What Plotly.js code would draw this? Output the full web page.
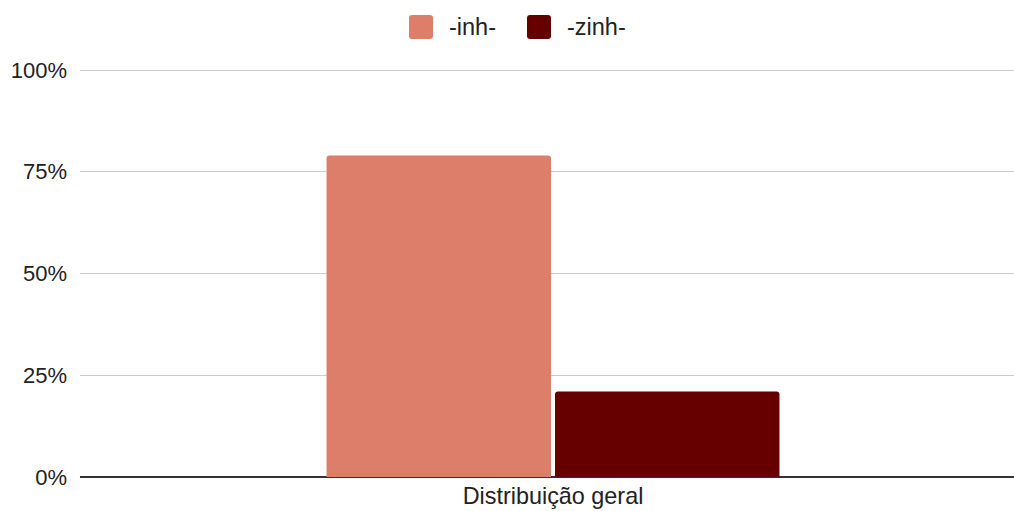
<!DOCTYPE html>
<html>
<head>
<meta charset="utf-8">
<script src="https://cdn.plot.ly/plotly-3.0.1.min.js"></script>
<style>html,body{margin:0;padding:0;background:#fff;}#chart{width:1014px;height:511px;}</style>
</head>
<body>
<div id="chart"></div>
<script>
// Share of each diminutive suffix in the overall distribution
const categories = ['Distribuição geral'];
const seriesNames = ['-inh-', '-zinh-'];
const inhValues = [79];
const zinhValues = [21];
const seriesColors = ['#dd7e6b', '#660000'];
const yTickValues = [0, 25, 50, 75, 100];
const yTickLabels = ['0%', '25%', '50%', '75%', '100%'];

const W = 1014, H = 511;
const M = {l: 80, r: 0, t: 69, b: 34};
const plotW = W - M.l - M.r, plotH = H - M.t - M.b;
const FONT = 'Liberation Sans, Arial, sans-serif';

const traces = [inhValues, zinhValues].map((vals, i) => ({
  type: 'bar',
  name: seriesNames[i],
  x: categories,
  y: vals,
  marker: {color: seriesColors[i], line: {width: 0}},
  hoverinfo: 'skip'
}));

// Legend drawn as rounded square swatches and labels centred above the plot
const px2x = p => (p - M.l) / plotW;
const py2y = p => (H - M.b - p) / plotH;
function roundedRect(x0, y0, x1, y1, r) {
  // pixel box -> paper-space path with rounded corners
  const X = px2x, Y = py2y;
  return 'M' + X(x0 + r) + ',' + Y(y0) +
    ' L' + X(x1 - r) + ',' + Y(y0) +
    ' Q' + X(x1) + ',' + Y(y0) + ' ' + X(x1) + ',' + Y(y0 + r) +
    ' L' + X(x1) + ',' + Y(y1 - r) +
    ' Q' + X(x1) + ',' + Y(y1) + ' ' + X(x1 - r) + ',' + Y(y1) +
    ' L' + X(x0 + r) + ',' + Y(y1) +
    ' Q' + X(x0) + ',' + Y(y1) + ' ' + X(x0) + ',' + Y(y1 - r) +
    ' L' + X(x0) + ',' + Y(y0 + r) +
    ' Q' + X(x0) + ',' + Y(y0) + ' ' + X(x0 + r) + ',' + Y(y0) + ' Z';
}
const swatchLeft = [409, 527];
const labelLeft = [447, 565];
const shapes = [];
const annotations = [];
seriesNames.forEach((name, i) => {
  shapes.push({
    type: 'path', xref: 'paper', yref: 'paper',
    path: roundedRect(swatchLeft[i], 15, swatchLeft[i] + 24, 39, 3),
    fillcolor: seriesColors[i], line: {width: 0}
  });
  annotations.push({
    xref: 'paper', yref: 'paper',
    x: px2x(labelLeft[i]), y: py2y(27),
    xanchor: 'left', yanchor: 'middle',
    text: name, showarrow: false,
    font: {family: FONT, size: 23.5, color: '#222'}
  });
});

const layout = {
  width: W, height: H,
  margin: M,
  paper_bgcolor: '#fff', plot_bgcolor: '#fff',
  showlegend: false,
  barmode: 'group',
  bargap: 0.517,
  bargroupgap: 0.0175,
  barcornerradius: 3,
  font: {family: FONT, size: 22, color: '#222'},
  xaxis: {
    type: 'category',
    range: [-0.5, 0.4873],
    showgrid: false, zeroline: false,
    showline: false,
    ticks: '', ticklabelstandoff: 3,
    tickfont: {family: FONT, size: 23.4, color: '#222'}
  },
  yaxis: {
    range: [0, 100.25],
    tickvals: yTickValues,
    ticktext: yTickLabels,
    showgrid: true, gridcolor: '#cccccc', gridwidth: 1,
    zeroline: true, zerolinecolor: '#333333', zerolinewidth: 1.5,
    showline: false, ticks: '',
    ticklabelstandoff: 12,
    tickfont: {family: FONT, size: 22, color: '#222'}
  },
  shapes: shapes,
  annotations: annotations
};

Plotly.newPlot('chart', traces, layout, {displayModeBar: false, staticPlot: true});
</script>
</body>
</html>
